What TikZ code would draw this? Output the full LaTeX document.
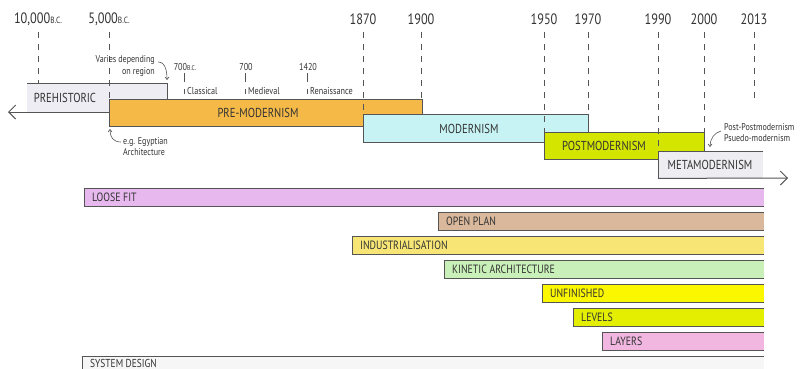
\documentclass[tikz,border=0pt]{standalone}
\usepackage{fontspec}
\setmainfont{PT Sans}[FakeStretch=0.82]
\usetikzlibrary{arrows.meta}
\definecolor{edge}{HTML}{555555}
\definecolor{ink}{HTML}{333333}
\definecolor{cPre}{HTML}{EDEDF3}
\definecolor{cPM}{HTML}{F4B946}
\definecolor{cMod}{HTML}{C8F3F4}
\definecolor{cPost}{HTML}{D4E600}
\definecolor{cMeta}{HTML}{EDEDF2}
\definecolor{cLoose}{HTML}{E6B8EE}
\definecolor{cOpen}{HTML}{D9B89C}
\definecolor{cInd}{HTML}{F7E676}
\definecolor{cKin}{HTML}{CAF0B9}
\definecolor{cUnf}{HTML}{FBF700}
\definecolor{cLev}{HTML}{E3EE00}
\definecolor{cLay}{HTML}{F1B7E1}
\definecolor{cSys}{HTML}{F6F6F6}
\tikzset{
  period/.style={draw=edge, line width=0.8pt, fill=#1, anchor=north west, inner sep=0pt},
  plabel/.style={text=ink, font=\fontsize{13}{13}\selectfont, inner sep=0pt},
  yearlbl/.style={text=ink, font=\fontsize{15}{15}\selectfont, inner sep=0pt},
  guide/.style={draw=edge, line width=0.9pt, dash pattern=on 6pt off 6pt},
  tick/.style={draw=edge, line width=0.6pt},
  sublbl/.style={text=ink, font=\fontsize{10}{10}\selectfont, inner sep=0pt},
  note/.style={text=ink, font=\fontsize{9.8}{11.5}\selectfont, inner sep=0pt},
  notearrow/.style={draw=edge, line width=0.6pt, -{Straight Barb[length=2.5pt,width=4pt]}},
  barfill/.style={fill=#1, anchor=north west, inner sep=0pt, minimum height=18pt},
  barline/.style={draw=edge, line width=0.7pt},
  barlbl/.style={text=ink, font=\fontsize{12}{12}\selectfont, inner sep=0pt, anchor=west},
  timearrow/.style={draw=edge, line width=1pt, -{Straight Barb[length=7pt,width=14pt]}}
}
\newcommand{\bcx}{{\fontsize{9}{9}\selectfont B.C.}}
\begin{document}
\begin{tikzpicture}[x=1pt,y=-1pt]
\useasboundingbox[fill=white] (0,0) rectangle (801,369);

% ---- period boxes ----
\node (prehist) [fill=cPre, anchor=north west, inner sep=0pt, minimum width=140pt, minimum height=29pt] at (27,83) {};
\draw[barline, line width=0.8pt] (prehist.north west) -- (prehist.north east) -- ++(0,16);
\node (prehistlbl) [plabel] at (65,98) {PREHISTORIC};

\node (premod) [period=cPM, minimum width=313pt, minimum height=27pt] at (109,99) {};
\node (premodlbl) [plabel] at (258,113) {PRE-MODERNISM};

\coordinate (arrL) at (8,112);
\draw[timearrow] (premod.south west |- 0,112) -- (arrL);

\node (mod) [period=cMod, minimum width=225pt, minimum height=28pt] at (363,114) {};
\node (modlbl) [plabel] at (469,128.5) {MODERNISM};

\node (post) [period=cPost, minimum width=160pt, minimum height=27pt] at (544,132) {};
\node (postlbl) [plabel] at (604,146) {POSTMODERNISM};

\node (meta) [fill=cMeta, anchor=north west, inner sep=0pt, minimum width=105pt, minimum height=27pt] at (658,151) {};
\draw[barline, line width=0.8pt] (meta.north east) -- (meta.north west) -- (meta.south west);
\coordinate (arrR) at (788,178);
\draw[timearrow] (meta.south west) -- (arrR);
\node (metalbl) [plabel] at (710,165) {METAMODERNISM};

% ---- years and guides ----
\foreach \nm/\x/\txt/\yend in {y10k/38/{10,000\bcx}/83, y5k/109/{5,000\bcx}/99,
    y1870/363/1870/114, y1900/421/1900/99, y1950/544/1950/132, y1970/588/1970/114,
    y1990/658/1990/151, y2000/704/2000/132, y2013/754/2013/100}{
  \node (\nm) [yearlbl] at (\x,19) {\txt};
  \coordinate (\nm e) at (\x,\yend);
  \draw[guide] (\x,32) -- (\nm e);
}

% ---- sub-period ticks ----
\foreach \nm/\x/\yr/\per in {s700bc/184/{700{\fontsize{7}{7}\selectfont B.C.}}/Classical,
    s700/245/700/Medieval, s1420/307/1420/Renaissance}{
  \node (\nm) [sublbl] at (\x+1,67) {\yr};
  \draw[tick] (\x,73) -- (\x,82);
  \draw[tick] (\x,89) -- (\x,94);
  \node (\nm p) [sublbl, anchor=west] at (\x+3,91.5) {\per};
}

% ---- notes ----
\node (varies) [note, align=right, anchor=north east] at (155,55.5) {Varies depending\\on region};
\draw[notearrow] (158,62) .. controls (165,62) and (167,70) .. (167,80);

\node (egypt) [note, align=left, anchor=north west] at (123,137) {e.g. Egyptian\\Architecture};
\draw[notearrow] (121,142) .. controls (113,142) and (110,137) .. (110,129);

\node (pomo) [note, align=left, anchor=north west] at (724,123) {Post-Postmodernism\\Psuedo-modernism};
\draw[notearrow] (721,131) .. controls (714,133) and (710,139) .. (710,147);

% ---- strategy bars ----
\foreach \nm/\x/\y/\col/\txt in {loose/84/188/cLoose/LOOSE FIT, open/438/212/cOpen/OPEN PLAN,
    indus/352/236/cInd/INDUSTRIALISATION, kinetic/444/260/cKin/KINETIC ARCHITECTURE,
    unfin/542/284/cUnf/UNFINISHED, levels/573/308/cLev/LEVELS, layers/602/332/cLay/LAYERS,
    sysd/82/356/cSys/{}}{
  \node (\nm) [barfill=\col, minimum width={764-\x}] at (\x,\y) {};
  \draw[barline] (\nm.north east) -- (\nm.north west) -- (\nm.south west) -- (\nm.south east);
  \node (\nm l) [barlbl] at ([xshift=8pt]\nm.west) {\txt};
}
\node (sysdtext) [barlbl, font=\fontsize{11.5}{11.5}\selectfont] at (90,363.2) {SYSTEM DESIGN};
\end{tikzpicture}
\end{document}
